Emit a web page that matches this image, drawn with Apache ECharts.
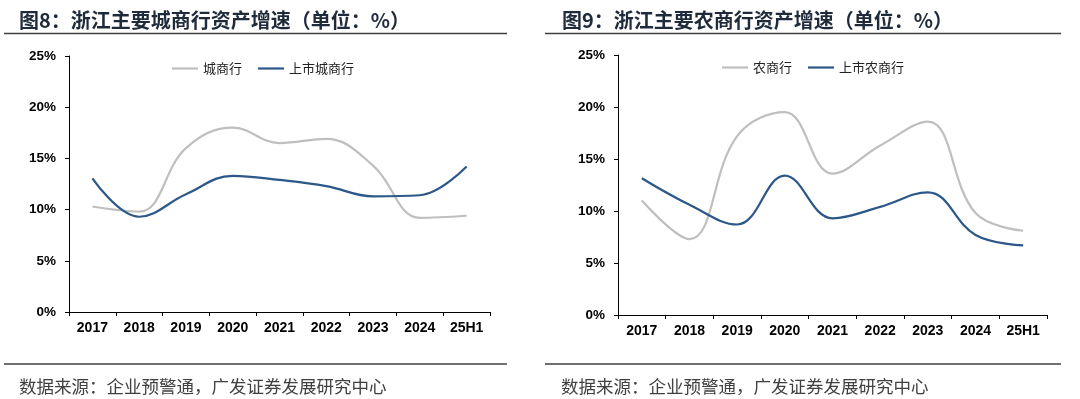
<!DOCTYPE html>
<html>
<head>
<meta charset="utf-8">
<script src="https://cdn.jsdelivr.net/npm/echarts@6/dist/echarts.min.js"></script>
<style>
html,body{margin:0;padding:0;background:#fff;}
#c{width:1080px;height:399px;}
</style>
</head>
<body>
<div id="c"></div>
<script>
const categories = ['2017','2018','2019','2020','2021','2022','2023','2024','25H1'];
const yTicks = [0, 5, 10, 15, 20, 25];
// 图8
const cityBank = [10.3, 9.8, 16.0, 18.0, 16.5, 16.9, 14.3, 9.2, 9.4];
const listedCityBank = [13.05, 9.3, 11.5, 13.3, 12.9, 12.3, 11.3, 11.4, 14.2];
// 图9
const ruralBank = [11.0, 7.3, 17.2, 19.5, 13.6, 16.3, 18.6, 9.8, 8.1];
const listedRuralBank = [13.15, 10.6, 8.7, 13.4, 9.3, 10.4, 11.8, 7.7, 6.7];

const titleL = '图8：浙江主要城商行资产增速（单位：%）';
const titleR = '图9：浙江主要农商行资产增速（单位：%）';
const source = '数据来源：企业预警通，广发证券发展研究中心';

const GRAY = '#BFBFBF', BLUE = '#2B5888';
const cjk = '"Noto Sans CJK SC", sans-serif';
const latin = '"Liberation Sans", Arial, sans-serif';

function xAx(gi){
  return {
    type:'category', gridIndex:gi, data:categories, boundaryGap:true,
    axisLine:{lineStyle:{color:'#000', width:1}},
    axisTick:{show:true, interval:0, length:4, lineStyle:{color:'#000'}},
    axisLabel:{interval:0, margin:9, color:'#000', fontFamily:latin, fontWeight:'bold', fontSize:14}
  };
}
function yAx(gi){
  return {
    type:'value', gridIndex:gi, min:yTicks[0], max:yTicks[yTicks.length-1], interval:5,
    axisLine:{show:true, lineStyle:{color:'#000', width:1}},
    axisTick:{show:true, length:4, lineStyle:{color:'#000'}},
    splitLine:{show:false},
    axisLabel:{margin:13, color:'#000', fontFamily:latin, fontWeight:'bold', fontSize:13.5, formatter:'{value}%'}
  };
}
function ser(name, data, color, gi){
  return {
    name, type:'line', xAxisIndex:gi, yAxisIndex:gi, data, smooth:0.4,
    symbol:'none', lineStyle:{color, width:2.2}, itemStyle:{color}
  };
}
function legend(names, left, top){
  return {
    data:names, left, top, icon:'rect', itemWidth:26, itemHeight:2.2, itemGap:16,
    textStyle:{fontFamily:cjk, fontSize:13, color:'#222', padding:[0,0,0,0]}
  };
}

const chart = echarts.init(document.getElementById('c'), null, {renderer:'canvas'});
chart.setOption({
  animation:false,
  backgroundColor:'#fff',
  title:[
    {text:titleL, left:14, top:5, textStyle:{fontFamily:cjk, fontSize:20, fontWeight:'bold', color:'#1f2a3a'}},
    {text:titleR, left:557, top:5, textStyle:{fontFamily:cjk, fontSize:20, fontWeight:'bold', color:'#1f2a3a'}},
    {text:source, left:14, top:373, textStyle:{fontFamily:cjk, fontSize:17.5, fontWeight:'normal', color:'#404040'}},
    {text:source, left:556, top:373, textStyle:{fontFamily:cjk, fontSize:17.5, fontWeight:'normal', color:'#404040'}}
  ],
  graphic:[
    {type:'line', shape:{x1:4,y1:33.5,x2:507,y2:33.5}, style:{stroke:'#404040', lineWidth:1.6}},
    {type:'line', shape:{x1:545,y1:33.5,x2:1061,y2:33.5}, style:{stroke:'#404040', lineWidth:1.6}},
    {type:'line', shape:{x1:4,y1:364,x2:507,y2:364}, style:{stroke:'#404040', lineWidth:1.6}},
    {type:'line', shape:{x1:545,y1:364,x2:1061,y2:364}, style:{stroke:'#404040', lineWidth:1.6}}
  ],
  legend:[
    legend(['城商行','上市城商行'], 167, 57),
    legend(['农商行','上市农商行'], 717, 56)
  ],
  grid:[
    {left:69, top:56, width:421, height:256},
    {left:618, top:55, width:429, height:260}
  ],
  xAxis:[xAx(0), xAx(1)],
  yAxis:[yAx(0), yAx(1)],
  series:[
    ser('城商行', cityBank, GRAY, 0),
    ser('上市城商行', listedCityBank, BLUE, 0),
    ser('农商行', ruralBank, GRAY, 1),
    ser('上市农商行', listedRuralBank, BLUE, 1)
  ]
});
</script>
</body>
</html>
